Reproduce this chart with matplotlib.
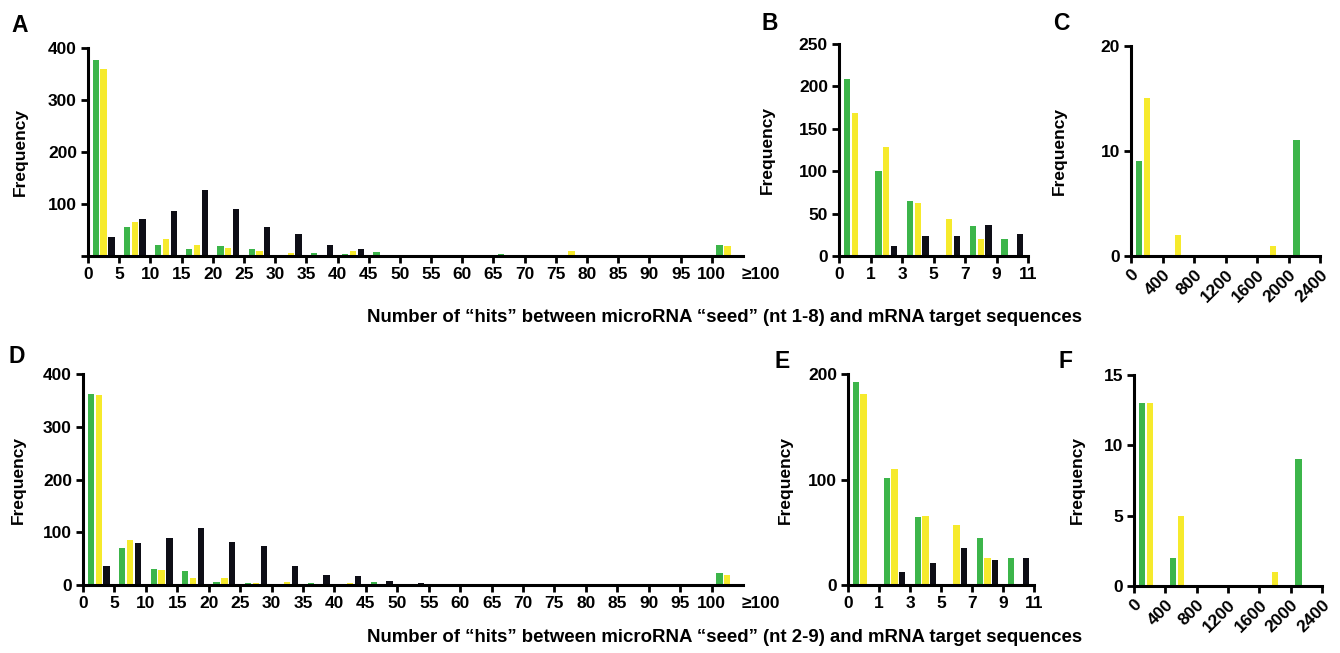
import numpy as np
import matplotlib
matplotlib.use("Agg")
import matplotlib.pyplot as plt
from matplotlib.transforms import blended_transform_factory

plt.rcParams["font.family"] = ["Liberation Sans", "DejaVu Sans"]
plt.rcParams["font.weight"] = "bold"

# ---- data -------------------------------------------------------------
# A / D : bins of width 5, last bin is ">=100"
bins_ad = list(range(0, 105, 5))
green_a = [376, 56, 22, 14, 19, 14, 2, 5, 4, 8, 0, 0, 0, 4, 0, 0, 0, 0, 0, 0, 22]
yellow_a = [360, 65, 33, 22, 15, 10, 6, 1, 10, 0, 0, 0, 0, 0, 0, 10, 0, 0, 0, 0, 20]
black_a = [36, 71, 87, 126, 90, 56, 42, 22, 13, 0, 0, 0, 0, 0, 0, 0, 0, 0, 0, 0, 0]

green_d = [362, 71, 30, 27, 6, 4, 2, 4, 1, 6, 0, 0, 0, 0, 0, 0, 0, 0, 0, 0, 23]
yellow_d = [360, 85, 29, 13, 14, 4, 5, 0, 4, 0, 0, 0, 0, 0, 0, 1, 0, 0, 0, 0, 19]
black_d = [36, 79, 90, 108, 82, 73, 36, 19, 17, 8, 3, 0, 0, 0, 0, 0, 0, 0, 0, 0, 0]

xtick_ad = list(range(0, 105, 5))
xlabels_ad = [str(v) for v in xtick_ad]
last_label = "\u2265100"

# B / E : six bins, axis labelled 0,1,3,5,7,9,11
bins_be = [0, 1, 2, 3, 4, 5]
xlabels_be = ["0", "1", "3", "5", "7", "9", "11"]
green_b = [209, 100, 65, 0, 35, 20]
yellow_b = [169, 128, 62, 44, 20, 0]
black_b = [0, 12, 23, 23, 37, 26]

green_e = [192, 101, 64, 0, 45, 26]
yellow_e = [181, 110, 65, 57, 26, 0]
black_e = [0, 12, 21, 35, 24, 26]

# C / F : bins of width 400
bins_cf = [0, 400, 800, 1200, 1600, 2000]
green_c = [9, 0, 0, 0, 0, 11]
yellow_c = [15, 2, 0, 0, 1, 0]
green_f = [13, 2, 0, 0, 0, 9]
yellow_f = [13, 5, 0, 0, 1, 0]

GREEN = "#3cb54a"
YELLOW = "#f6ea2c"
BLACK = "#0e0e16"
TICK_FS = 12.5

W, H = 1340, 653
fig = plt.figure(figsize=(W / 100, H / 100), dpi=100)


def add_ax(left, right, top, bottom):
    return fig.add_axes([left / W, 1 - bottom / H, (right - left) / W, (bottom - top) / H])


def style(ax, ylab_off, width_px):
    for s in ("top", "right"):
        ax.spines[s].set_visible(False)
    for s in ("left", "bottom"):
        ax.spines[s].set_linewidth(2.2)
    ax.tick_params(direction="out", length=5, width=2, labelsize=TICK_FS, pad=3)
    for lab in ax.get_xticklabels() + ax.get_yticklabels():
        lab.set_fontweight("bold")
    ax.set_ylabel("Frequency", fontsize=12.5, fontweight="bold")
    ax.yaxis.set_label_coords(-ylab_off / width_px, 0.5)


def bars(ax, starts, step, series):
    x = np.array(starts, dtype=float)
    for frac, vals, col in series:
        ax.bar(x + frac * step, vals, width=0.2 * step, color=col, linewidth=0)


def end_label(ax, height_px):
    # ">=100" label sits past the end of the axis, without a tick
    tr = blended_transform_factory(ax.transData, ax.transAxes)
    ax.text(107.8, -11 / height_px, last_label, transform=tr, ha="center", va="top",
            fontsize=TICK_FS, fontweight="bold", clip_on=False)


# ---- A ----
axA = add_ax(88, 743, 48, 256)
bars(axA, bins_ad, 5, [(0.25, green_a, GREEN), (0.5, yellow_a, YELLOW), (0.75, black_a, BLACK)])
axA.set_xlim(0, 105)
axA.set_ylim(0, 400)
axA.set_xticks(xtick_ad)
axA.set_xticklabels(xlabels_ad)
axA.set_yticks([0, 100, 200, 300, 400])
axA.set_yticklabels(["", "100", "200", "300", "400"])
style(axA, 60, 655)
end_label(axA, 208)

# ---- B ----
axB = add_ax(839, 1028, 44, 256)
bars(axB, bins_be, 1, [(0.25, green_b, GREEN), (0.5, yellow_b, YELLOW), (0.75, black_b, BLACK)])
axB.set_xlim(0, 6)
axB.set_ylim(0, 250)
axB.set_xticks(range(7))
axB.set_xticklabels(xlabels_be)
axB.set_yticks([0, 50, 100, 150, 200, 250])
style(axB, 64, 189)

# ---- C ----
axC = add_ax(1131, 1320, 46, 256)
bars(axC, bins_cf, 400, [(0.25, green_c, GREEN), (0.5, yellow_c, YELLOW)])
axC.set_xlim(0, 2400)
axC.set_ylim(0, 20)
axC.set_xticks(range(0, 2401, 400))
axC.set_yticks([0, 10, 20])
style(axC, 64, 189)
plt.setp(axC.get_xticklabels(), rotation=45, ha="right", rotation_mode="anchor")

# ---- D ----
axD = add_ax(83, 743, 374, 585)
bars(axD, bins_ad, 5, [(0.25, green_d, GREEN), (0.5, yellow_d, YELLOW), (0.75, black_d, BLACK)])
axD.set_xlim(0, 105)
axD.set_ylim(0, 400)
axD.set_xticks(xtick_ad)
axD.set_xticklabels(xlabels_ad)
axD.set_yticks([0, 100, 200, 300, 400])
style(axD, 57, 660)
end_label(axD, 211)

# ---- E ----
axE = add_ax(848, 1034, 374, 585)
bars(axE, bins_be, 1, [(0.25, green_e, GREEN), (0.5, yellow_e, YELLOW), (0.75, black_e, BLACK)])
axE.set_xlim(0, 6)
axE.set_ylim(0, 200)
axE.set_xticks(range(7))
axE.set_xticklabels(xlabels_be)
axE.set_yticks([0, 100, 200])
style(axE, 55, 186)

# ---- F ----
axF = add_ax(1134, 1322, 375, 586)
bars(axF, bins_cf, 400, [(0.25, green_f, GREEN), (0.5, yellow_f, YELLOW)])
axF.set_xlim(0, 2400)
axF.set_ylim(0, 15)
axF.set_xticks(range(0, 2401, 400))
axF.set_yticks([0, 5, 10, 15])
style(axF, 49, 188)
plt.setp(axF.get_xticklabels(), rotation=45, ha="right", rotation_mode="anchor")

# ---- panel letters and shared x labels ----
for letter, px, py in [("A", 20, 25), ("B", 770, 24), ("C", 1061, 24),
                       ("D", 17, 357), ("E", 782, 361), ("F", 1066, 361)]:
    fig.text(px / W, 1 - py / H, letter, fontsize=16.5, fontweight="bold",
             ha="center", va="center")

fig.text(725 / W, 1 - 318 / H,
         "Number of \u201chits\u201d between microRNA \u201cseed\u201d (nt 1-8) and mRNA target sequences",
         fontsize=13.4, fontweight="bold", ha="center", va="center")
fig.text(725 / W, 1 - 638 / H,
         "Number of \u201chits\u201d between microRNA \u201cseed\u201d (nt 2-9) and mRNA target sequences",
         fontsize=13.4, fontweight="bold", ha="center", va="center")

fig.savefig("out.png", dpi=100)
